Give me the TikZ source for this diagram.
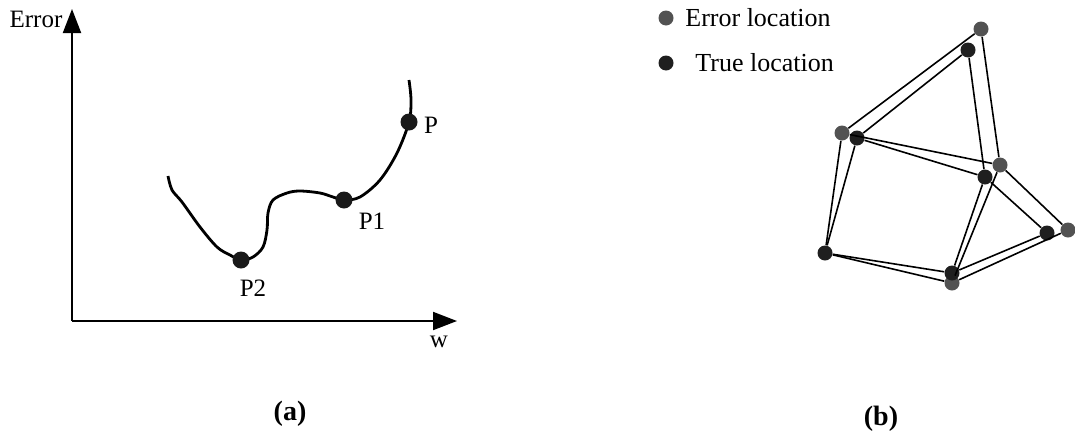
\documentclass[tikz,border=0pt]{standalone}
\usepackage{fontspec}
\setmainfont{Liberation Serif}
\usetikzlibrary{arrows.meta,positioning}

\tikzset{
    lbl/.style={font=\fontsize{12.5}{15}\selectfont, inner sep=0pt},
    legtxt/.style={font=\fontsize{13}{15}\selectfont, inner sep=0pt, anchor=west},
    captxt/.style={font=\fontsize{14}{16}\selectfont\bfseries, inner sep=0pt},
    axis/.style={line width=1pt, -{Triangle[length=12pt,width=9pt]}},
    pdot/.style={circle, fill=black!90, inner sep=0pt, minimum size=8.5pt},
    tdot/.style={circle, fill=black!88, inner sep=0pt, minimum size=7.5pt},
    edot/.style={circle, fill=black!68, inner sep=0pt, minimum size=7.5pt},
    link/.style={line width=0.8pt},
}

\begin{document}
\begin{tikzpicture}[x=0.5pt, y=-0.5pt]
    \useasboundingbox (0,0) rectangle (1075,434);

    % (a) error curve
    \coordinate (o) at (72,321);
    \coordinate (ytop) at (72,9);
    \coordinate (xend) at (457,321);
    \draw[axis] (o) -- (ytop);
    \draw[axis] (o) -- (xend);
    \node[lbl] (errlbl) at (36,19) {Error};
    \node[lbl] (wlbl) at (439,342) {w};
    \draw[line width=1.4pt] plot[smooth, tension=0.55] coordinates {
        (168,176) (172,190) (182,202) (200,227) (217,247) (230,255) (241,260)
        (253,257) (263,247) (267,230) (268,213) (273,200) (287,193) (300,191)
        (320,193) (333,197) (344,200) (360,197) (380,180) (397,153) (409,122)
        (411,100) (409,80)};
    \node[pdot] (p) at (409,122) {};
    \node[pdot] (p1) at (344,200) {};
    \node[pdot] (p2) at (241,260) {};
    \node[lbl] (plbl) at (431,125) {P};
    \node[lbl] (p1lbl) at (372,221) {P1};
    \node[lbl] (p2lbl) at (253,288) {P2};
    \node[captxt] (capa) at (290,414) {(a)};

    % (b) legend
    \node[edot] (legE) at (666,18) {};
    \node[legtxt] (legEtxt) at (685,18) {Error location};
    \node[tdot] (legT) at (666,63) {};
    \node[legtxt] (legTtxt) at (695,63) {True location};

    % (b) network: error positions
    \node[edot] (e1) at (981,29) {};
    \node[edot] (e2) at (842,133) {};
    \node[edot] (e3) at (1000,165) {};
    \node[edot] (e4) at (1068,230) {};
    \node[edot] (e5) at (952,283) {};
    % true positions
    \node[tdot] (t1) at (968,50) {};
    \node[tdot] (t2) at (857,138) {};
    \node[tdot] (t3) at (985,177) {};
    \node[tdot] (t4) at (1047,233) {};
    \node[tdot] (t5) at (952,273) {};
    \node[tdot] (t6) at (825,253) {};

    \foreach \a/\b in {e1/e2, e1/e3, e2/e3, e2/t6, e3/e5, e3/e4, e4/e5, t6/e5}
        \draw[link] (\a) -- (\b);
    \foreach \a/\b in {t1/t2, t1/t3, t2/t3, t2/t6, t3/t5, t3/t4, t4/t5, t6/t5}
        \draw[link] (\a) -- (\b);

    \node[captxt] (capb) at (881,419) {(b)};
\end{tikzpicture}
\end{document}
